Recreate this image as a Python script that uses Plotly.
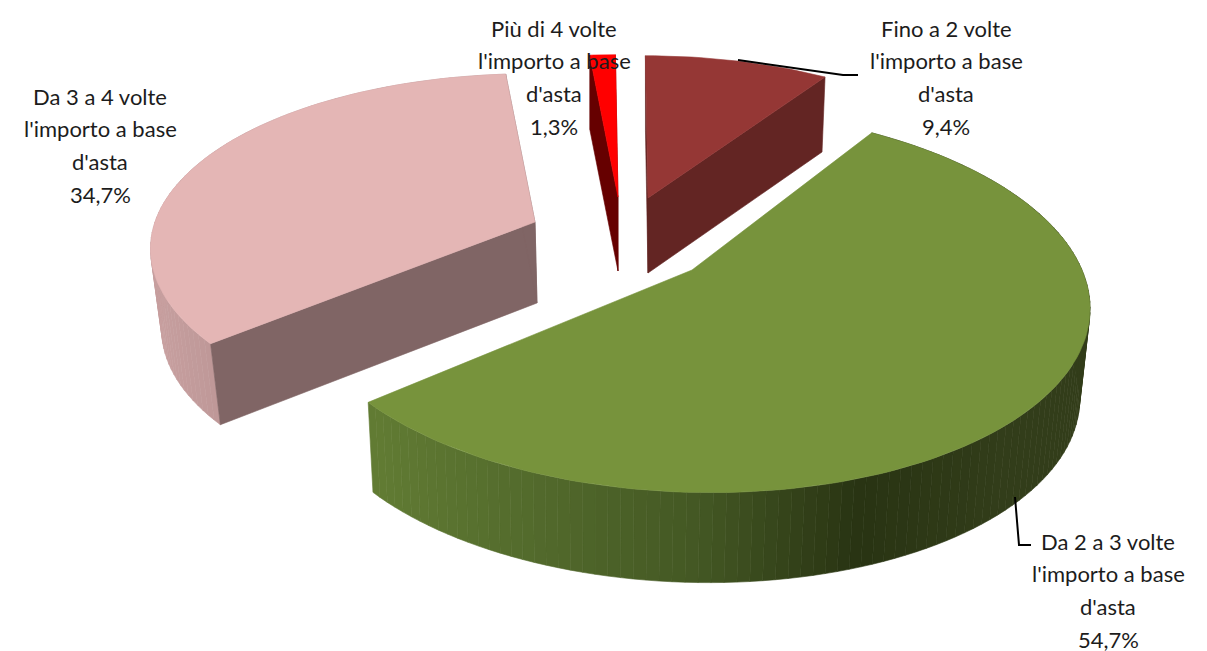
import math
import plotly.graph_objects as go

# ---- data -------------------------------------------------------------
categories = ["Fino a 2 volte", "Da 2 a 3 volte", "Da 3 a 4 volte", "Più di 4 volte"]
label_tail = ["l'importo a base", "d'asta"]
values = [9.4, 54.7, 34.7, 1.3]
percent_labels = ["9,4%", "54,7%", "34,7%", "1,3%"]

# ---- styling / projection of the tilted pie (pixels) -------------------
W, H = 1207, 651
KP = 0.16  # perspective strength
TOP_COLORS = ["#953735", "#77933C", "#E4B6B5", "#FF0000"]
RADIAL_COLORS = ["#632523", None, "#806565", "#660000"]
CENTERS = [(648, 198), (692, 270), (535, 222), (618, 197)]
RX = [365, 390, 380, 365]
RY = [165, 187, 172, 165]
SKEW = [-3, -16, -3, -3]
DEPTH = [75, 90, 81, 74]
BOTTOM_X = [0.983, 0.979, 0.976, 1.0]
BOTTOM_DX = [0, -2, 2, 0]
WALL_STOPS = [
    None,
    [(370, (98, 124, 52)), (520, (84, 108, 45)), (700, (68, 88, 36)), (860, (41, 52, 19)), (1000, (50, 61, 26)), (1090, (50, 61, 26))],
    [(150, (200, 160, 160)), (215, (190, 152, 152))],
    None,
]
LABEL_X = [946, 1108, 100, 554]
LABEL_Y = [28, 541, 96, 28]
LINE_STEP = 32.7
LEADERS = [([738, 832, 843, 858], [60, 73, 75, 75]), ([1015, 1019, 1031], [497, 545, 545])]
FONT = dict(family="Lato, Carlito, Calibri, sans-serif", size=22, color="#1c1c1c")


def project(i, theta):
    u, v = math.sin(theta), math.cos(theta)
    w = 1 + KP * v
    cx, cy = CENTERS[i]
    return cx + (RX[i] * u + SKEW[i] * v) / w, cy - RY[i] * v / w


def lower(i, p):
    cx = CENTERS[i][0]
    return cx + BOTTOM_DX[i] + (p[0] - cx) * BOTTOM_X[i], p[1] + DEPTH[i]


def wall_color(i, x):
    stops = WALL_STOPS[i]
    for (x0, c0), (x1, c1) in zip(stops, stops[1:]):
        if x <= x1:
            t = max(0, (x - x0) / (x1 - x0))
            return "rgb(%d,%d,%d)" % tuple(a + (b - a) * t for a, b in zip(c0, c1))
    return "rgb(%d,%d,%d)" % stops[-1][1]


fig = go.Figure()


def poly(points, color):
    xs = [p[0] for p in points] + [points[0][0]]
    ys = [p[1] for p in points] + [points[0][1]]
    fig.add_trace(go.Scatter(x=xs, y=ys, mode="lines", fill="toself", fillcolor=color,
                             line=dict(color=color, width=0.6), hoverinfo="skip", showlegend=False))


total = sum(values)
start = 0.0
for i, val in enumerate(values):
    end = start + val / total * 2 * math.pi
    n = max(6, int(val * 2.2))
    thetas = [start + (end - start) * k / n for k in range(n + 1)]
    arc = [project(i, t) for t in thetas]
    apex = CENTERS[i]
    # outer wall, shaded strip by strip
    if WALL_STOPS[i]:
        for a, b in zip(arc, arc[1:]):
            poly([a, b, lower(i, b), lower(i, a)], wall_color(i, (a[0] + b[0]) / 2))
    # radial walls
    if RADIAL_COLORS[i]:
        for rim in (arc[0], arc[-1]):
            poly([apex, rim, lower(i, rim), lower(i, apex)], RADIAL_COLORS[i])
    # top face
    poly([apex] + arc, TOP_COLORS[i])
    start = end

for lx, ly in LEADERS:
    fig.add_trace(go.Scatter(x=lx, y=ly, mode="lines", line=dict(color="black", width=2),
                             hoverinfo="skip", showlegend=False))

for i, cat in enumerate(categories):
    lines = [cat] + label_tail + [percent_labels[i]]
    for k, text in enumerate(lines):
        fig.add_annotation(x=LABEL_X[i], y=LABEL_Y[i] + k * LINE_STEP, text=text, showarrow=False,
                           font=FONT, xanchor="center", yanchor="middle")

fig.update_layout(
    width=W, height=H, margin=dict(l=0, r=0, t=0, b=0),
    paper_bgcolor="white", plot_bgcolor="white", showlegend=False,
    xaxis=dict(range=[0, W], visible=False, fixedrange=True),
    yaxis=dict(range=[H, 0], visible=False, fixedrange=True),
)
fig.write_html("out.html", config={"displayModeBar": False},
               post_script="document.body.style.margin='0';")
